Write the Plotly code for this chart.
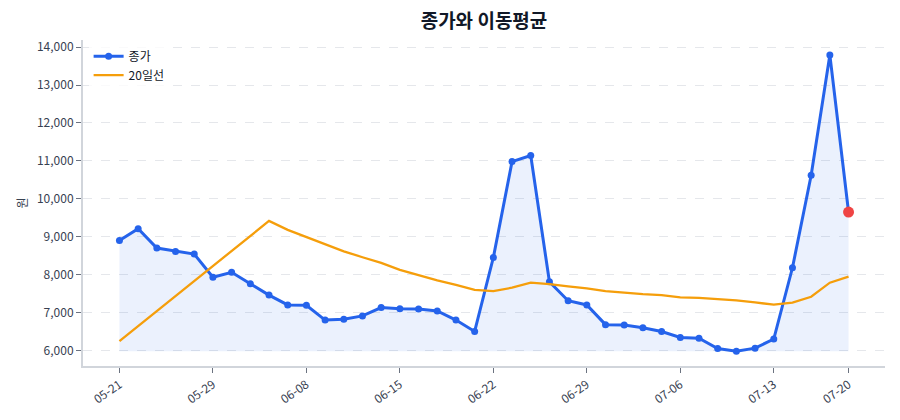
import plotly.graph_objects as go

dates = ["05-21", "05-22", "05-26", "05-27", "05-28", "05-29",
         "06-01", "06-02", "06-04", "06-05", "06-08",
         "06-09", "06-10", "06-11", "06-12", "06-15",
         "06-16", "06-17", "06-18", "06-19", "06-22",
         "06-23", "06-24", "06-25", "06-26", "06-29",
         "06-30", "07-01", "07-02", "07-03", "07-06",
         "07-07", "07-08", "07-09", "07-10", "07-13",
         "07-14", "07-15", "07-16", "07-20"]

close = [8900, 9210, 8700, 8610, 8540, 7930,
         8060, 7760, 7460, 7200, 7190,
         6800, 6820, 6910, 7130, 7100,
         7090, 7040, 6800, 6500, 8450,
         10980, 11140, 7810, 7310, 7200,
         6680, 6670, 6600, 6500, 6340,
         6320, 6050, 5980, 6060, 6300,
         8180, 10620, 13795, 9650]

ma20 = [6245, 6641, 7037, 7433, 7830, 8226,
        8622, 9018, 9415, 9181, 8991,
        8807, 8614, 8458, 8310, 8125,
        7985, 7848, 7729, 7595, 7565,
        7655, 7787, 7750, 7690, 7637,
        7563, 7518, 7484, 7457, 7400,
        7384, 7360, 7320, 7267, 7206,
        7259, 7415, 7787, 7946]

tick_labels = ["05-21", "05-29", "06-08", "06-15", "06-22",
               "06-29", "07-06", "07-13", "07-20"]

title_text = "종가와 이동평균"
y_title = "원"
name_close = "종가"
name_ma = "20일선"

BLUE = "#2563EB"
ORANGE = "#F59E0B"
RED = "#EF4444"
FONT = "Noto Sans CJK KR"

base = min(close)

fig = go.Figure()
fig.add_trace(go.Scatter(x=dates, y=[base] * len(dates), mode="lines",
                         line=dict(width=0, color="rgba(0,0,0,0)"),
                         showlegend=False, hoverinfo="skip"))
fig.add_trace(go.Scatter(x=dates, y=close, mode="lines", fill="tonexty",
                         fillcolor="rgba(37,99,235,0.09)",
                         line=dict(width=0, color="rgba(37,99,235,0.12)"),
                         showlegend=False, hoverinfo="skip"))
fig.add_trace(go.Scatter(x=dates, y=close, mode="lines+markers", name=name_close,
                         line=dict(color=BLUE, width=3),
                         marker=dict(color=BLUE, size=7)))
fig.add_trace(go.Scatter(x=dates, y=ma20, mode="lines", name=name_ma,
                         line=dict(color=ORANGE, width=2.3)))
fig.add_trace(go.Scatter(x=[dates[-1]], y=[close[-1]], mode="markers",
                         marker=dict(color=RED, size=11),
                         showlegend=False))

n = len(dates)
pad = (n - 1) * 0.05

fig.update_layout(
    width=900, height=420,
    margin=dict(l=83, r=15, t=40, b=54),
    paper_bgcolor="white", plot_bgcolor="white",
    font=dict(family=FONT, size=12, color="#374151"),
    title=dict(text="<b>" + title_text + "</b>", x=0.5, xref="paper",
               y=1 - 21 / 420, yref="container", yanchor="middle",
               font=dict(family=FONT, size=19, color="#111827")),
    legend=dict(x=0.007, y=0.995, xanchor="left", yanchor="top",
                traceorder="normal",
                bgcolor="rgba(255,255,255,0.8)", borderwidth=0,
                font=dict(family=FONT, size=12, color="#111827"),
                tracegroupgap=0),
    showlegend=True,
)

fig.update_xaxes(type="category", categoryorder="array", categoryarray=dates,
                 range=[-pad, n - 1 + pad],
                 tickmode="array", tickvals=tick_labels, ticktext=tick_labels,
                 tickangle=-35, ticks="outside", ticklen=5, tickcolor="#6B7280",
                 showline=True, linecolor="#D1D5DB", linewidth=2,
                 showgrid=False, zeroline=False,
                 tickfont=dict(family=FONT, size=12, color="#374151"))

fig.update_yaxes(range=[5589, 14188],
                 tickmode="array",
                 tickvals=[6000, 7000, 8000, 9000, 10000, 11000, 12000, 13000, 14000],
                 tickformat=",d", ticks="outside", ticklen=5, tickcolor="#6B7280",
                 showline=True, linecolor="#D1D5DB", linewidth=2,
                 showgrid=True, gridcolor="#E5E7EB", griddash="dash", gridwidth=1,
                 zeroline=False,
                 title=dict(text=y_title, standoff=7,
                            font=dict(family=FONT, size=12, color="#374151")),
                 tickfont=dict(family=FONT, size=12, color="#374151"))

fig.write_html("out.html")
